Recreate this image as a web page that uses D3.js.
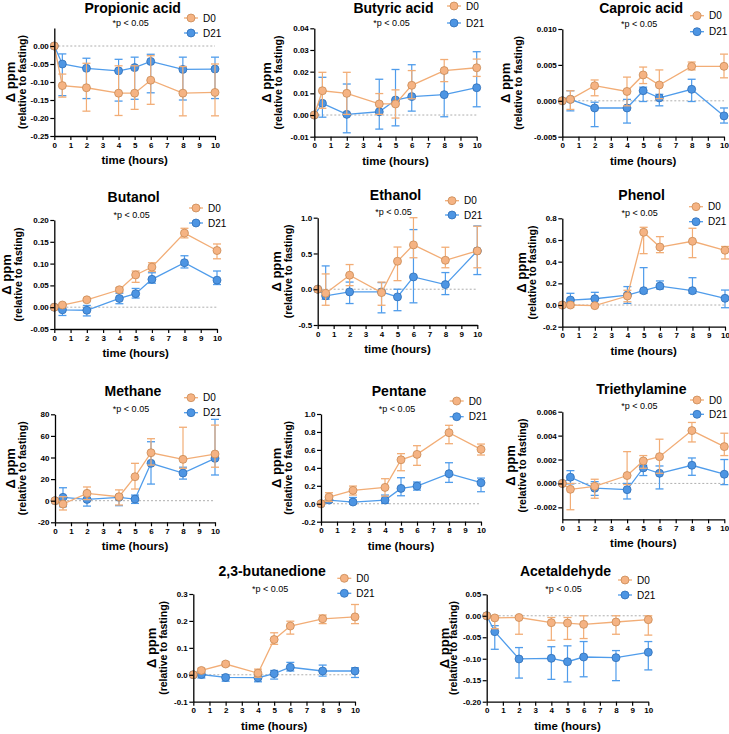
<!DOCTYPE html>
<html><head><meta charset="utf-8">
<script src="https://cdn.jsdelivr.net/npm/d3@7"></script>
<style>
body{margin:0;background:#fff}
svg{display:block;font-family:"Liberation Sans",Arial,sans-serif}
</style>
</head><body><svg id="c" width="729" height="734"></svg>
<script>
// ---------------- DATA ----------------
const times = [0, 0.5, 2, 4, 5, 6, 8, 10];
const xTickValues = [0,1,2,3,4,5,6,7,8,9,10];
const seriesNames = ["D0", "D21"];
const pLabel = "*p < 0.05";

const propionicD0   = [0, -0.110, -0.116, -0.131, -0.131, -0.095, -0.131, -0.129];
const propionicD0Lo = [0, -0.142, -0.181, -0.193, -0.176, -0.162, -0.194, -0.194];
const propionicD0Hi = [0, -0.078, -0.048, -0.055, -0.055, -0.027, -0.057, -0.050];
const propionicD21   = [0, -0.050, -0.062, -0.069, -0.060, -0.043, -0.065, -0.064];
const propionicD21Lo = [0, -0.138, -0.146, -0.153, -0.148, -0.130, -0.150, -0.146];
const propionicD21Hi = [0, -0.022, -0.034, -0.037, -0.031, -0.023, -0.031, -0.031];
const propionicTicks = [-0.25, -0.20, -0.15, -0.10, -0.05, 0.00];

const butyricD0   = [0, 0.0112, 0.0100, 0.0051, 0.0051, 0.0137, 0.0205, 0.0218];
const butyricD0Lo = [0, 0.0031, 0.0003, 0.0003, -0.0014, 0.0075, 0.0154, 0.0178];
const butyricD0Hi = [0, 0.0197, 0.0197, 0.0099, 0.0116, 0.0205, 0.0256, 0.0258];
const butyricD21   = [0, 0.0054, 0.0003, 0.0015, 0.0069, 0.0085, 0.0094, 0.0126];
const butyricD21Lo = [0, -0.0010, -0.0082, -0.0065, -0.0050, 0.0018, -0.0008, 0.0038];
const butyricD21Hi = [0, 0.0174, 0.0143, 0.0165, 0.0210, 0.0232, 0.0195, 0.0292];
const butyricTicks = [-0.01, 0.00, 0.01, 0.02, 0.03, 0.04];

const caproicD0   = [0, 0.0002, 0.0021, 0.0013, 0.0036, 0.0022, 0.0048, 0.0048];
const caproicD0Lo = [0, -0.0012, 0.0007, -0.0007, 0.0024, 0.0003, 0.0043, 0.0032];
const caproicD0Hi = [0, 0.0014, 0.0029, 0.0033, 0.0047, 0.0043, 0.0054, 0.0065];
const caproicD21   = [0, 0.0002, -0.0010, -0.0010, 0.0014, 0.0004, 0.0016, -0.0021];
const caproicD21Lo = [0, -0.0014, -0.0036, -0.0031, -0.0001, -0.0007, -0.0001, -0.0031];
const caproicD21Hi = [0, 0.0014, -0.0002, 0.0002, 0.0019, 0.0009, 0.0030, -0.0010];
const caproicTicks = [-0.005, 0.000, 0.005, 0.010];

const butanolD0   = [0, 0.005, 0.017, 0.040, 0.074, 0.092, 0.170, 0.130];
const butanolD0Lo = [0, 0.002, 0.014, 0.035, 0.057, 0.082, 0.159, 0.111];
const butanolD0Hi = [0, 0.008, 0.020, 0.045, 0.083, 0.102, 0.181, 0.145];
const butanolD21   = [0, -0.006, -0.007, 0.020, 0.031, 0.064, 0.102, 0.062];
const butanolD21Lo = [0, -0.019, -0.020, 0.008, 0.021, 0.055, 0.090, 0.052];
const butanolD21Hi = [0, 0.004, 0.004, 0.032, 0.043, 0.079, 0.118, 0.083];
const butanolTicks = [-0.05, 0.00, 0.05, 0.10, 0.15, 0.20];

const ethanolD0   = [0, -0.056, 0.196, -0.047, 0.391, 0.620, 0.405, 0.536];
const ethanolD0Lo = [0, -0.224, 0.050, -0.224, 0.120, 0.440, 0.300, 0.300];
const ethanolD0Hi = [0, 0.214, 0.345, 0.100, 0.590, 1.000, 0.587, 0.880];
const ethanolD21   = [0, -0.093, -0.037, -0.037, -0.107, 0.172, 0.065, 0.536];
const ethanolD21Lo = [0, -0.140, -0.200, -0.330, -0.300, -0.190, -0.075, 0.205];
const ethanolD21Hi = [0, 0.326, 0.100, 0.093, 0.000, 0.834, 0.233, 0.885];
const ethanolTicks = [-0.5, 0.0, 0.5, 1.0];

const phenolD0   = [0, 0.000, -0.006, 0.083, 0.671, 0.535, 0.588, 0.505];
const phenolD0Lo = [0, -0.020, -0.016, 0.030, 0.474, 0.483, 0.437, 0.425];
const phenolD0Hi = [0, 0.020, 0.004, 0.136, 0.717, 0.631, 0.708, 0.540];
const phenolD21   = [0, 0.046, 0.058, 0.092, 0.132, 0.175, 0.132, 0.062];
const phenolD21Lo = [0, 0.000, 0.010, 0.015, 0.108, 0.148, 0.108, -0.025];
const phenolD21Hi = [0, 0.108, 0.117, 0.170, 0.345, 0.222, 0.252, 0.138];
const phenolTicks = [-0.2, 0.0, 0.2, 0.4, 0.6, 0.8];

const methaneD0   = [0, -3.1, 6.8, 3.7, 22.2, 44.4, 38.3, 43.2];
const methaneD0Lo = [0, -8.6, 1.0, -4.0, 10.8, 33.0, 30.0, 31.0];
const methaneD0Hi = [0, 3.7, 12.7, 10.0, 34.6, 57.4, 68.0, 70.0];
const methaneD21   = [0, 3.1, 1.2, 3.1, 1.5, 34.6, 25.6, 39.2];
const methaneD21Lo = [0, -5.6, -5.0, -4.6, -2.5, 15.4, 20.0, 23.8];
const methaneD21Hi = [0, 12.0, 8.0, 5.2, 5.2, 54.6, 31.0, 75.3];
const methaneTicks = [-20, 0, 20, 40, 60, 80];

const pentaneD0   = [0, 0.074, 0.149, 0.182, 0.490, 0.550, 0.792, 0.606];
const pentaneD0Lo = [0, 0.025, 0.097, 0.085, 0.368, 0.428, 0.669, 0.543];
const pentaneD0Hi = [0, 0.123, 0.197, 0.279, 0.558, 0.647, 0.874, 0.665];
const pentaneD21   = [0, 0.041, 0.019, 0.041, 0.171, 0.197, 0.335, 0.234];
const pentaneD21Lo = [0, 0.015, 0.000, 0.004, 0.089, 0.152, 0.238, 0.134];
const pentaneD21Hi = [0, 0.070, 0.070, 0.097, 0.290, 0.242, 0.457, 0.286];
const pentaneTicks = [-0.2, 0.0, 0.2, 0.4, 0.6, 0.8, 1.0];

const triethylD0   = [0, -0.00049, -0.00024, 0.00066, 0.00188, 0.00224, 0.00442, 0.00308];
const triethylD0Lo = [0, -0.0022, -0.00124, -0.0001, 0.00127, 0.00085, 0.00347, 0.00233];
const triethylD0Hi = [0, 0.0000, 0.00035, 0.00266, 0.00233, 0.0037, 0.0051, 0.0042];
const triethylD21   = [0, 0.00052, -0.0004, -0.00052, 0.0013, 0.00085, 0.00152, 0.00077];
const triethylD21Lo = [0, -0.00004, -0.0010, -0.0013, 0.00066, -0.00046, 0.00068, -0.0001];
const triethylD21Hi = [0, 0.00107, 0.00015, 0.0000, 0.00152, 0.00146, 0.00213, 0.0020];
const triethylTicks = [-0.002, 0.000, 0.002, 0.004, 0.006];

const butanedioneD0   = [0, 0.016, 0.040, 0.006, 0.131, 0.181, 0.208, 0.215];
const butanedioneD0Lo = [0, 0.008, 0.032, -0.009, 0.113, 0.151, 0.190, 0.190];
const butanedioneD0Hi = [0, 0.024, 0.048, 0.021, 0.156, 0.199, 0.222, 0.261];
const butanedioneD21   = [0, 0.001, -0.010, -0.011, 0.004, 0.028, 0.014, 0.014];
const butanedioneD21Lo = [0, -0.012, -0.024, -0.026, -0.016, 0.014, -0.005, -0.010];
const butanedioneD21Hi = [0, 0.014, 0.000, -0.001, 0.016, 0.046, 0.036, 0.026];
const butanedioneTicks = [-0.1, 0.0, 0.1, 0.2, 0.3];

const acetD0   = [0, -0.005, -0.004, -0.016, -0.017, -0.020, -0.0145, -0.009];
const acetD0Lo = [0, -0.030, -0.043, -0.057, -0.055, -0.053, -0.043, -0.045];
const acetD0Hi = [0, 0.000, 0.000, -0.004, -0.004, 0.000, 0.000, 0.000];
const acetD21   = [0, -0.037, -0.1005, -0.099, -0.107, -0.096, -0.0975, -0.085];
const acetD21Lo = [0, -0.078, -0.145, -0.148, -0.154, -0.142, -0.151, -0.126];
const acetD21Hi = [0, -0.023, -0.074, -0.072, -0.070, -0.060, -0.081, -0.060];
const acetTicks = [-0.20, -0.15, -0.10, -0.05, 0.00, 0.05];

// ---------------- PANELS (data + layout) ----------------
const panels = [
 {title:"Propionic acid", d0:[propionicD0,propionicD0Lo,propionicD0Hi], d21:[propionicD21,propionicD21Lo,propionicD21Hi], dom:[-0.25,0.05], ticks:propionicTicks, fmt:".2f",
  L:{x0:54.3,x1:215,yT:28,yB:136,leg:[191,18,33],lab:[10,22]}},
 {title:"Butyric acid", d0:[butyricD0,butyricD0Lo,butyricD0Hi], d21:[butyricD21,butyricD21Lo,butyricD21Hi], dom:[-0.01,0.04], ticks:butyricTicks, fmt:".2f",
  L:{x0:314.3,x1:476.7,yT:28.3,yB:136.7,leg:[454,6,23],lab:[266.7,278]}},
 {title:"Caproic acid", d0:[caproicD0,caproicD0Lo,caproicD0Hi], d21:[caproicD21,caproicD21Lo,caproicD21Hi], dom:[-0.005,0.010], ticks:caproicTicks, fmt:".3f",
  L:{x0:562.3,x1:724,yT:29,yB:136.7,leg:[697,15.7,31.7],lab:[505.7,518.3]}},
 {title:"Butanol", d0:[butanolD0,butanolD0Lo,butanolD0Hi], d21:[butanolD21,butanolD21Lo,butanolD21Hi], dom:[-0.05,0.20], ticks:butanolTicks, fmt:".2f",
  L:{x0:54.3,x1:217,yT:220,yB:329,leg:[196,208,223],lab:[6.7,18.3]}},
 {title:"Ethanol", d0:[ethanolD0,ethanolD0Lo,ethanolD0Hi], d21:[ethanolD21,ethanolD21Lo,ethanolD21Hi], dom:[-0.5,1.0], ticks:ethanolTicks, fmt:".1f",
  L:{x0:317.7,x1:477.3,yT:217.7,yB:325,leg:[452,200.7,215],lab:[276.7,288.3]}},
 {title:"Phenol", d0:[phenolD0,phenolD0Lo,phenolD0Hi], d21:[phenolD21,phenolD21Lo,phenolD21Hi], dom:[-0.2,0.8], ticks:phenolTicks, fmt:".1f",
  L:{x0:562.3,x1:725,yT:218.3,yB:326.7,leg:[696,206.7,221.7],lab:[521,531.7]}},
 {title:"Methane", d0:[methaneD0,methaneD0Lo,methaneD0Hi], d21:[methaneD21,methaneD21Lo,methaneD21Hi], dom:[-20,80], ticks:methaneTicks, fmt:"d",
  L:{x0:55,x1:215,yT:414.3,yB:522.3,leg:[191,397.7,412.7],lab:[10,21.7]}},
 {title:"Pentane", d0:[pentaneD0,pentaneD0Lo,pentaneD0Hi], d21:[pentaneD21,pentaneD21Lo,pentaneD21Hi], dom:[-0.2,1.0], ticks:pentaneTicks, fmt:".1f",
  L:{x0:321,x1:481,yT:414,yB:521.7,leg:[456.7,401,416.7],lab:[276.7,288.3]}},
 {title:"Triethylamine", d0:[triethylD0,triethylD0Lo,triethylD0Hi], d21:[triethylD21,triethylD21Lo,triethylD21Hi], dom:[-0.003,0.006], ticks:triethylTicks, fmt:".3f",
  L:{x0:562.3,x1:724.3,yT:411.7,yB:519.3,leg:[697,400,414.3],lab:[510,521.7]}},
 {title:"2,3-butanedione", d0:[butanedioneD0,butanedioneD0Lo,butanedioneD0Hi], d21:[butanedioneD21,butanedioneD21Lo,butanedioneD21Hi], dom:[-0.1,0.3], ticks:butanedioneTicks, fmt:".1f",
  L:{x0:193.3,x1:355,yT:594,yB:701.7,leg:[344.3,578.3,593.3],lab:[151,163]}},
 {title:"Acetaldehyde", d0:[acetD0,acetD0Lo,acetD0Hi], d21:[acetD21,acetD21Lo,acetD21Hi], dom:[-0.20,0.05], ticks:acetTicks, fmt:".2f",
  L:{x0:486.7,x1:648.3,yT:594.3,yB:701.7,leg:[625,580,595],lab:[444,453]}}
];

// ---------------- STYLE ----------------
const colors = {
  D0:  {line:"#f2ad76", fill:"#f5b383", stroke:"#c98a55"},
  D21: {line:"#4f9ceb", fill:"#4d95e3", stroke:"#2f6fb8"}
};

const svg = d3.select("#c");

panels.forEach(p => {
  const L = p.L;
  const x = d3.scaleLinear().domain([0,10]).range([L.x0, L.x1]);
  const y = d3.scaleLinear().domain(p.dom).range([L.yB, L.yT]);
  const g = svg.append("g");
  const f = d3.format(p.fmt);
  const fmt = v => f(v).replace("\u2212","-");

  // zero line
  g.append("line").attr("x1",x(0)).attr("x2",x(10)).attr("y1",y(0)).attr("y2",y(0))
    .attr("stroke","#9a9a9a").attr("stroke-width",0.8).attr("stroke-dasharray","2,2");

  // series: D21 first, D0 on top
  [["D21",p.d21],["D0",p.d0]].forEach(([name, arr]) => {
    const c = colors[name];
    const pts = times.map((t,i)=>({t, m:arr[0][i], lo:arr[1][i], hi:arr[2][i]}));
    const sg = g.append("g");
    pts.forEach(d => {
      if (d.lo === d.hi) return;
      sg.append("line").attr("x1",x(d.t)).attr("x2",x(d.t)).attr("y1",y(d.lo)).attr("y2",y(d.hi))
        .attr("stroke",c.line).attr("stroke-width",1.2);
      [d.lo,d.hi].forEach(v => sg.append("line").attr("x1",x(d.t)-4).attr("x2",x(d.t)+4)
        .attr("y1",y(v)).attr("y2",y(v)).attr("stroke",c.line).attr("stroke-width",1.3));
    });
    sg.append("path").datum(pts)
      .attr("d", d3.line().x(d=>x(d.t)).y(d=>y(d.m)))
      .attr("fill","none").attr("stroke",c.line).attr("stroke-width",1.3);
    sg.selectAll("circle").data(pts).join("circle")
      .attr("cx",d=>x(d.t)).attr("cy",d=>y(d.m)).attr("r",4)
      .attr("fill",c.fill).attr("stroke",c.stroke).attr("stroke-width",0.8);
  });

  // axes
  const ya = g.append("g").attr("transform",`translate(${L.x0},0)`)
    .call(d3.axisLeft(y).tickValues(p.ticks).tickFormat(fmt).tickSize(4).tickSizeOuter(0));
  const xa = g.append("g").attr("transform",`translate(0,${L.yB})`)
    .call(d3.axisBottom(x).tickValues(xTickValues).tickFormat(d3.format("d")).tickSize(4).tickSizeOuter(0));
  [ya,xa].forEach(a => {
    a.select(".domain").attr("stroke","#000").attr("stroke-width",1.3);
    a.selectAll(".tick line").attr("stroke","#000").attr("stroke-width",1.2);
    a.selectAll(".tick text").attr("fill","#000").attr("font-size","8px").attr("font-weight","bold")
      .attr("font-family","'Liberation Sans',Arial,sans-serif");
  });
  ya.selectAll(".tick text").attr("x",-5.5);
  xa.selectAll(".tick text").attr("y",6);

  const cx = (L.x0+L.x1)/2;
  // title (alphabetic baseline; keep fully inside the picture)
  g.append("text").attr("x",cx-2).attr("y",Math.max(L.yT-18, 13))
    .attr("text-anchor","middle").attr("font-size","14px").attr("font-weight","bold").text(p.title);
  // p-value
  g.append("text").attr("x",cx-4).attr("y",L.yT-5.5).attr("text-anchor","middle")
    .attr("dominant-baseline","central").attr("font-size","9px").text(pLabel);
  // x axis title
  g.append("text").attr("x",cx).attr("y",L.yB+24).attr("text-anchor","middle")
    .attr("dominant-baseline","central").attr("font-size","11.5px").attr("font-weight","bold").text("time (hours)");
  // y axis titles
  const cy = (L.yT+L.yB)/2;
  g.append("text").attr("transform",`translate(${L.lab[0]},${cy}) rotate(-90)`).attr("text-anchor","middle")
    .attr("dominant-baseline","central").attr("font-size","13px").attr("font-weight","bold").text("\u0394 ppm");
  g.append("text").attr("transform",`translate(${L.lab[1]},${cy}) rotate(-90)`).attr("text-anchor","middle")
    .attr("dominant-baseline","central").attr("font-size","10.5px").attr("font-weight","bold").text("(relative to fasting)");

  // legend
  seriesNames.forEach((name,i) => {
    const c = colors[name];
    const lx = L.leg[0], ly = L.leg[1+i];
    g.append("line").attr("x1",lx-7).attr("x2",lx+7).attr("y1",ly).attr("y2",ly)
      .attr("stroke",c.line).attr("stroke-width",1.3);
    g.append("circle").attr("cx",lx).attr("cy",ly).attr("r",4)
      .attr("fill",c.fill).attr("stroke",c.stroke).attr("stroke-width",0.8);
    g.append("text").attr("x",lx+12).attr("y",ly).attr("dominant-baseline","central")
      .attr("font-size","10px").text(name);
  });
});
</script>
</body></html>
